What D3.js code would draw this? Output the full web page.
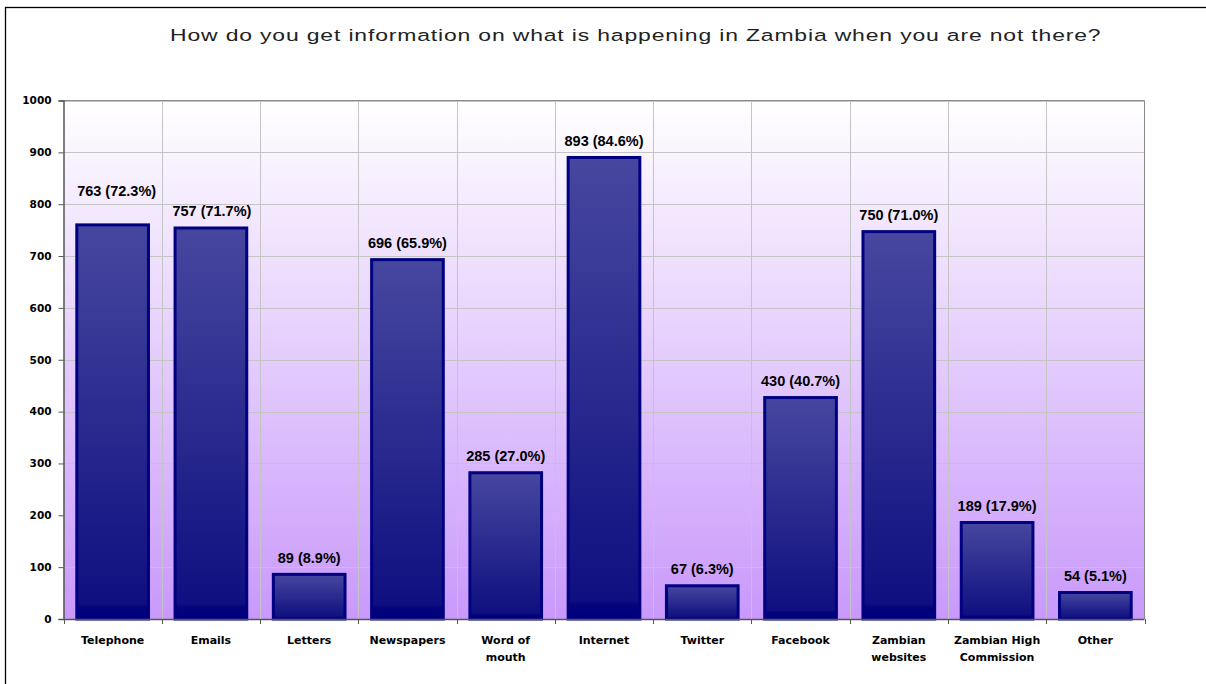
<!DOCTYPE html>
<html>
<head>
<meta charset="utf-8">
<script src="https://cdn.jsdelivr.net/npm/d3@7"></script>
<style>
  html, body { margin: 0; padding: 0; background: #ffffff; }
  svg { display: block; }
</style>
</head>
<body>
<svg id="chart" width="1206" height="684"></svg>
<script>
const categories = ["Telephone", "Emails", "Letters", "Newspapers", "Word of mouth", "Internet",
  "Twitter", "Facebook", "Zambian websites", "Zambian High Commission", "Other"];
const categoryLines = [["Telephone"], ["Emails"], ["Letters"], ["Newspapers"], ["Word of", "mouth"],
  ["Internet"], ["Twitter"], ["Facebook"], ["Zambian", "websites"], ["Zambian High", "Commission"], ["Other"]];
const counts = [763, 757, 89, 696, 285, 893, 67, 430, 750, 189, 54];
const percents = ["72.3%", "71.7%", "8.9%", "65.9%", "27.0%", "84.6%", "6.3%", "40.7%", "71.0%", "17.9%", "5.1%"];
const yTicks = [0, 100, 200, 300, 400, 500, 600, 700, 800, 900, 1000];
const title = "How do you get information on what is happening in Zambia when you are not there?";

const svg = d3.select("#chart");
const W = 1206, H = 684;
const plot = { left: 63.5, top: 100.5, right: 1144.5, bottom: 619 };

// outer frame
svg.append("rect").attr("x", 5.5).attr("y", 7.5).attr("width", W).attr("height", H)
  .attr("fill", "none").attr("stroke", "#000").attr("stroke-width", 1.3);

const defs = svg.append("defs");
const bg = defs.append("linearGradient").attr("id", "bgGrad").attr("x1", 0).attr("y1", 0).attr("x2", 0).attr("y2", 1);
bg.append("stop").attr("offset", 0).attr("stop-color", "#ffffff");
bg.append("stop").attr("offset", 1).attr("stop-color", "#c999fb");
const barG = defs.append("linearGradient").attr("id", "barGrad").attr("x1", 0).attr("y1", 0).attr("x2", 0).attr("y2", 1);
barG.append("stop").attr("offset", 0).attr("stop-color", "#4747a0");
barG.append("stop").attr("offset", 0.5).attr("stop-color", "#2a2a8f");
barG.append("stop").attr("offset", 0.96).attr("stop-color", "#0f0f81");
barG.append("stop").attr("offset", 0.97).attr("stop-color", "#03037d");
barG.append("stop").attr("offset", 1).attr("stop-color", "#000080");

const x = d3.scaleBand().domain(categories).range([plot.left, plot.right]).paddingInner(0).paddingOuter(0);
const y = d3.scaleLinear().domain([0, 1000]).range([plot.bottom, plot.top]);

// plot background
svg.append("rect").attr("x", plot.left).attr("y", plot.top)
  .attr("width", plot.right - plot.left).attr("height", plot.bottom - plot.top)
  .attr("fill", "url(#bgGrad)");

// horizontal gridlines
svg.append("g").selectAll("line").data(yTicks.slice(1)).join("line")
  .attr("x1", plot.left).attr("x2", plot.right)
  .attr("y1", d => Math.round(y(d)) + 0.5).attr("y2", d => Math.round(y(d)) + 0.5)
  .attr("stroke", "#c4c4c4").attr("stroke-width", 1);

// vertical gridlines at band boundaries
const bounds = categories.slice(1).map(c => x(c));
svg.append("g").selectAll("line").data(bounds).join("line")
  .attr("x1", d => Math.round(d) + 0.5).attr("x2", d => Math.round(d) + 0.5)
  .attr("y1", plot.top).attr("y2", plot.bottom)
  .attr("stroke", "#c4c4c4").attr("stroke-width", 1);

// plot border (top/right)
svg.append("path")
  .attr("d", `M${plot.left},${plot.top}H${plot.right}V${plot.bottom}`)
  .attr("fill", "none").attr("stroke", "#8a8a8a").attr("stroke-width", 1);

// bars
const bw = x.bandwidth() * 0.76;
svg.append("g").selectAll("rect").data(counts).join("rect")
  .attr("x", (d, i) => x(categories[i]) + (x.bandwidth() - bw) / 2 + 1.5)
  .attr("y", d => y(d) + 1.5)
  .attr("width", bw - 3)
  .attr("height", d => plot.bottom - y(d) - 1.5)
  .attr("fill", "url(#barGrad)")
  .attr("stroke", "#000080").attr("stroke-width", 3);

// axes
const yAxis = d3.axisLeft(y).tickValues(yTicks).tickSize(5).tickPadding(7).tickFormat(d3.format("d"));
const gy = svg.append("g").attr("transform", `translate(${plot.left},0)`).call(yAxis);
gy.select(".domain").attr("stroke", "#555").attr("stroke-width", 1.5);
gy.selectAll(".tick line").attr("stroke", "#555");
gy.selectAll(".tick text").attr("font-family", "'DejaVu Sans', Verdana, sans-serif")
  .attr("font-weight", "bold").attr("font-size", "10.5px").attr("fill", "#000");

// x axis line and ticks at boundaries
svg.append("line").attr("x1", plot.left).attr("x2", plot.right)
  .attr("y1", plot.bottom + 0.5).attr("y2", plot.bottom + 0.5)
  .attr("stroke", "#555").attr("stroke-width", 1.5);
svg.append("g").selectAll("line").data([plot.left, ...bounds, plot.right]).join("line")
  .attr("x1", d => Math.round(d) + 0.5).attr("x2", d => Math.round(d) + 0.5)
  .attr("y1", plot.bottom).attr("y2", plot.bottom + 5)
  .attr("stroke", "#555").attr("stroke-width", 1);

// x labels
const xl = svg.append("g").selectAll("text").data(categoryLines).join("text")
  .attr("x", (d, i) => x(categories[i]) + x.bandwidth() / 2)
  .attr("y", 644)
  .attr("text-anchor", "middle")
  .attr("font-family", "'DejaVu Sans', Verdana, sans-serif")
  .attr("font-weight", "bold").attr("font-size", "11px").attr("fill", "#000");
xl.each(function(lines) {
  d3.select(this).selectAll("tspan").data(lines).join("tspan")
    .attr("x", d3.select(this).attr("x"))
    .attr("dy", (d, j) => j === 0 ? 0 : 17)
    .text(d => d);
});

// value labels with simple collision avoidance
const labels = counts.map((d, i) => ({
  text: `${d} (${percents[i]})`,
  cx: x(categories[i]) + x.bandwidth() / 2,
  by: y(d) - 10,
  dx: 0
}));
const lg = svg.append("g");
const lt = lg.selectAll("text").data(labels).join("text")
  .attr("text-anchor", "middle")
  .attr("font-family", "'Liberation Sans', Arial, sans-serif")
  .attr("font-weight", "bold").attr("font-size", "14.5px").attr("fill", "#000")
  .text(d => d.text);
lt.each(function(d) { d.w = this.getComputedTextLength(); });
for (let i = 0; i < labels.length - 1; i++) {
  const a = labels[i], b = labels[i + 1];
  const gap = (b.cx - b.w / 2) - (a.cx + a.w / 2);
  if (gap < 25 && Math.abs(a.by - b.by) < 18) {
    a.by = Math.min(a.by, b.by) - 17;
    a.dx = 4; b.dx = 1;
  }
}
lt.attr("x", d => d.cx + d.dx).attr("y", d => d.by);

// title (horizontally stretched like the source)
const tt = svg.append("text")
  .attr("x", 0).attr("y", 0)
  .attr("font-family", "'Liberation Sans', Arial, sans-serif")
  .attr("font-size", "16.5px").attr("fill", "#222")
  .attr("letter-spacing", "0.6px")
  .text(title);
const natural = tt.node().getComputedTextLength();
tt.attr("transform", `translate(170,41) scale(${932 / natural},1)`);
</script>
</body>
</html>
